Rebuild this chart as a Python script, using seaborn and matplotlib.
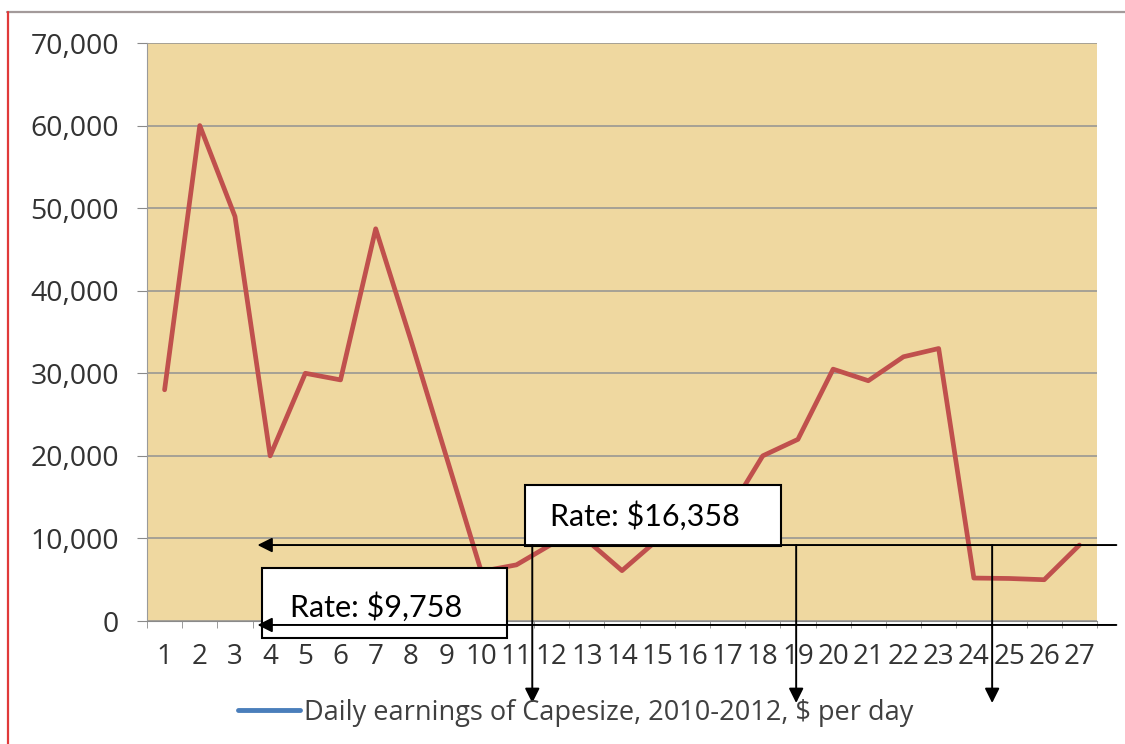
import matplotlib
matplotlib.use("Agg")
import matplotlib.pyplot as plt
import seaborn as sns
import pandas as pd
from matplotlib.lines import Line2D
from matplotlib.patches import Rectangle

# readings, one value per period
days = list(range(1, 28))
earnings = [28000, 60000, 49000, 20000, 30000, 29200, 47500, 34000, 20000, 6000,
            6800, 9300, 9800, 6100, 9800, 10500, 13000, 20000, 22000, 30500,
            29100, 32000, 33000, 5200, 5150, 5000, 9200]
y_ticks = [0, 10000, 20000, 30000, 40000, 50000, 60000, 70000]
series_label = "Daily earnings of Capesize, 2010-2012, $ per day"
rate_low = "Rate: $9,758"
rate_high = "Rate: $16,358"

df = pd.DataFrame({"day": days, "earnings": earnings})

sns.set_style("white")
plt.rcParams["font.family"] = ["Open Sans", "DejaVu Sans"]

fig = plt.figure(figsize=(11.25, 7.44), dpi=100)
ax = fig.add_axes([147 / 1125, 1 - 621 / 744, 950 / 1125, 578 / 744])
ax.set_facecolor("#efd8a0")

sns.lineplot(data=df, x="day", y="earnings", ax=ax, color="#c0504d", linewidth=3.4, zorder=3)

ax.set_xlim(0.5, 27.5)
ax.set_ylim(0, 70000)
ax.set_yticks(y_ticks)
ax.set_yticklabels([f"{v:,}" for v in y_ticks])
ax.set_xticks(days)
ax.set_xticks([d + 0.5 for d in range(0, 28)], minor=True)
ax.grid(axis="y", color="#929292", linewidth=1.1)
ax.set_axisbelow(True)
ax.set_xlabel("")
ax.set_ylabel("")

for side in ["top", "right"]:
    ax.spines[side].set_visible(False)
ax.spines["left"].set_color("#9a9a9a")
ax.spines["bottom"].set_color("#8a8a8a")

ax.tick_params(axis="y", which="major", length=7, color="#8a8a8a", labelsize=20.5,
               labelcolor="#333333", pad=13, left=True)
ax.tick_params(axis="x", which="major", length=0, labelsize=20, labelcolor="#333333", pad=16)
ax.tick_params(axis="x", which="minor", length=5, color="#8a8a8a", bottom=True)

# rate boxes
box_low = Rectangle((3.78, -2060), 6.94, 8480, facecolor="white", edgecolor="black",
                    linewidth=1.5, clip_on=False, zorder=5)
box_high = Rectangle((11.23, 9080), 7.3, 7380, facecolor="white", edgecolor="black",
                     linewidth=1.5, clip_on=False, zorder=5)
ax.add_patch(box_low)
ax.add_patch(box_high)
ax.text(4.55, 1700, rate_low, fontsize=22, family=["Lato", "DejaVu Sans"], va="center",
        ha="left", color="black", zorder=6)
ax.text(11.94, 12700, rate_high, fontsize=22, family=["Lato", "DejaVu Sans"], va="center",
        ha="left", color="black", zorder=6)

arrow = dict(arrowstyle="-|>", color="black", lw=1.4, mutation_scale=22, shrinkA=0, shrinkB=0)
ax.annotate("", xy=(3.64, 9200), xytext=(28.05, 9200), arrowprops=arrow,
            annotation_clip=False, zorder=7)
ax.annotate("", xy=(3.64, -480), xytext=(28.05, -480), arrowprops=arrow,
            annotation_clip=False, zorder=7)
for xv in [11.45, 18.95, 24.52]:
    ax.annotate("", xy=(xv, -9930), xytext=(xv, 9200), arrowprops=arrow,
                annotation_clip=False, zorder=7)

# legend (keeps the blue marker of the original)
handle = Line2D([], [], color="#4a7ebb", linewidth=3.5)
leg = fig.legend([handle], [series_label], loc="center", bbox_to_anchor=(0.512, 0.042),
                 frameon=False, fontsize=19.5, handlelength=2.3, handletextpad=0.15)
for t in leg.get_texts():
    t.set_color("#404040")

# outer chart frame
fig.add_artist(Line2D([7 / 1125, 1], [1 - 12 / 744] * 2, color="#a39a9a", linewidth=1.6))
fig.add_artist(Line2D([8 / 1125] * 2, [0, 1 - 12 / 744], color="#e03a3a", linewidth=1.6))

fig.savefig("out.png", dpi=100)
plt.close(fig)
